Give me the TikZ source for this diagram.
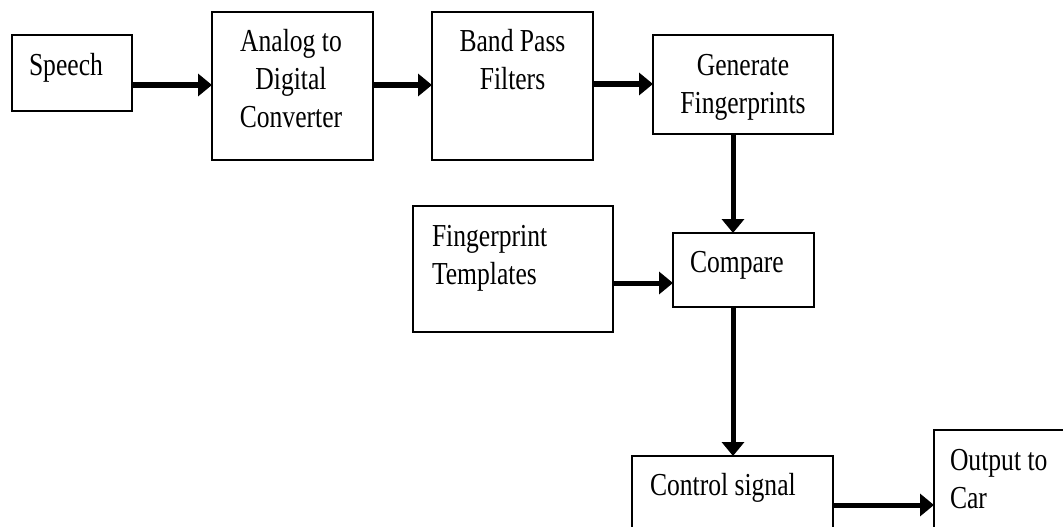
\documentclass[tikz,border=0pt]{standalone}
\usepackage{fontspec}
\setmainfont{Liberation Serif}[FakeStretch=0.8]
\usetikzlibrary{arrows.meta,calc}
\begin{document}
\begin{tikzpicture}[x=1pt,y=-1pt,
  box/.style={draw,line width=1.5pt,rectangle,inner sep=0pt,outer sep=0pt},
  lbl/.style={inner sep=0pt,outer sep=0pt,font=\fontsize{32}{38}\selectfont},
  arr/.style={line width=5pt,-{Triangle[length=14pt 0 0,width=22pt 0 0]}}]
\clip (0,0) rectangle (1063,527);
\fill[white] (0,0) rectangle (1063,527);
% boxes
\node[box,minimum width=120pt,minimum height=76pt]  (speech) at (72,73) {};
\node[box,minimum width=161pt,minimum height=148pt] (adc)    at (292.5,86) {};
\node[box,minimum width=161pt,minimum height=148pt] (bpf)    at (512.5,86) {};
\node[box,minimum width=180pt,minimum height=99pt]  (gen)    at (743,84.5) {};
\node[box,minimum width=200pt,minimum height=126pt] (tmp)    at (513,269) {};
\node[box,minimum width=141pt,minimum height=74pt]  (cmp)    at (743.5,270) {};
\node[box,minimum width=201pt,minimum height=124pt] (ctl)    at (732.5,518) {};
\node[box,minimum width=200pt,minimum height=150pt] (out)    at (1034,505) {};
% labels (base anchor = baseline of the last line)
\node[lbl,anchor=base west] (tspeech) at (29,75) {Speech};
\node[lbl,anchor=base,align=center] (tadc) at (291,127) {Analog to\\Digital\\Converter};
\node[lbl,anchor=base,align=center] (tbpf) at (512.5,89) {Band Pass\\Filters};
\node[lbl,anchor=base,align=center] (tgen) at (743,113) {Generate\\Fingerprints};
\node[lbl,anchor=base west,align=left] (ttmp) at (432,284) {Fingerprint\\Templates};
\node[lbl,anchor=base west] (tcmp) at (690,272) {Compare};
\node[lbl,anchor=base west] (tctl) at (650,495) {Control signal};
\node[lbl,anchor=base west,align=left] (tout) at (950,508) {Output to\\Car};
% connectors
\coordinate (vx) at (733,0);
\coordinate (ya) at (0,85);
\coordinate (yb) at (0,84);
\coordinate (yc) at (0,283);
\coordinate (yd) at (0,505);
\draw[arr] (speech.east |- ya) -- (adc.west |- ya);
\draw[arr] (adc.east |- ya) -- (bpf.west |- ya);
\draw[arr] (bpf.east |- yb) -- (gen.west |- yb);
\draw[arr] (gen.south -| vx) -- (cmp.north -| vx);
\draw[arr] (tmp.east |- yc) -- (cmp.west |- yc);
\draw[arr] (cmp.south -| vx) -- (ctl.north -| vx);
\draw[arr] (ctl.east |- yd) -- (out.west |- yd);
\end{tikzpicture}
\end{document}
